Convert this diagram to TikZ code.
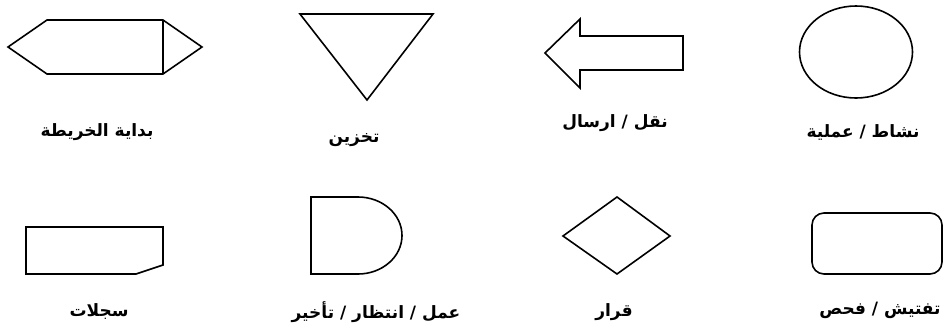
\documentclass[tikz,border=0pt]{standalone}
\usepackage{fontspec}
\newfontfamily\arabicfont[Script=Arabic]{DejaVu Sans}
\TeXXeTstate=1
\begin{document}
\begin{tikzpicture}[x=1pt, y=-1pt,
    shape line/.style={draw, line width=1.6pt, line join=miter},
    lbl/.style={font=\arabicfont\bfseries\fontsize{17}{19}\selectfont, inner sep=0pt}]
    \useasboundingbox (0,0) rectangle (944,327);

    % الصف الأول
    \draw[shape line] (8,47) -- (47,20) -- (163,20) -- (202,47) -- (163,74) -- (47,74) -- cycle;
    \draw[shape line] (163,20) -- (163,74);
    \draw[shape line] (300,14) -- (433,14) -- (367,100) -- cycle;
    \draw[shape line] (545,53) -- (580,19) -- (580,36) -- (683,36) -- (683,70) -- (580,70) -- (580,88) -- cycle;
    \draw[shape line] (856,52) ellipse [x radius=56.5, y radius=46];

    \node[lbl] (start) at (97,132) {\beginR بداية الخريطة\endR};
    \node[lbl] (store) at (354,140) {\beginR تخزين\endR};
    \node[lbl] (move) at (615,123) {\beginR نقل / ارسال\endR};
    \node[lbl] (process) at (863,132) {\beginR نشاط / عملية\endR};

    % الصف الثاني
    \draw[shape line] (26,227) -- (163,227) -- (163,265) -- (136,274) -- (26,274) -- cycle;
    \draw[shape line] (311,197) -- (358,197) arc[start angle=-90, end angle=90, x radius=44, y radius=38.5] -- (311,274) -- cycle;
    \draw[shape line] (617,197) -- (670,236) -- (617,274) -- (563,236) -- cycle;
    \draw[shape line, rounded corners=12pt] (812,213) rectangle (942,274);

    \node[lbl] (records) at (99,312) {\beginR سجلات\endR};
    \node[lbl] (delay) at (376,312) {\beginR عمل / انتظار / تأخير\endR};
    \node[lbl] (decision) at (614,312) {\beginR قرار\endR};
    \node[lbl] (inspect) at (880,310) {\beginR تفتيش / فحص\endR};

\end{tikzpicture}
\end{document}
